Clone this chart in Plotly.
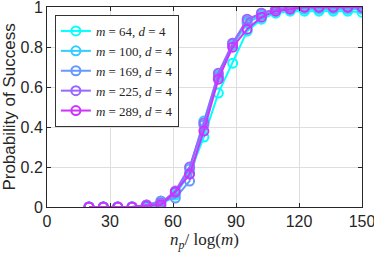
import plotly.graph_objects as go

x_vals = [20.0, 26.8, 33.7, 40.5, 47.4, 54.2, 61.1, 67.9, 74.7, 81.6,
          88.4, 95.3, 102.1, 108.9, 115.8, 122.6, 129.5, 136.3, 143.2, 150.0]

m64 = [0, 0, 0, 0, 0, 0.01, 0.06, 0.17, 0.35, 0.57, 0.72, 0.88, 0.94, 0.97, 0.98, 0.98, 0.98, 0.98, 0.98, 0.975]
m100 = [0, 0, 0, 0, 0, 0.02, 0.07, 0.19, 0.43, 0.66, 0.81, 0.92, 0.96, 0.98, 0.99, 0.99, 0.99, 0.99, 0.99, 0.99]
m169 = [0, 0, 0, 0, 0.01, 0.03, 0.045, 0.13, 0.41, 0.65, 0.82, 0.93, 0.97, 0.99, 1, 1, 1, 1, 1, 1]
m225 = [0, 0, 0, 0, 0.01, 0.02, 0.08, 0.2, 0.42, 0.67, 0.82, 0.94, 0.97, 0.99, 1, 1, 1, 1, 1, 1]
m289 = [0, 0, 0, 0, 0.005, 0.01, 0.075, 0.165, 0.38, 0.64, 0.80, 0.89, 0.95, 0.98, 0.99, 1, 1, 1, 1, 1]

series = [
    ("<i>m</i> = 64, <i>d</i> = 4", m64, "#00FFFF"),
    ("<i>m</i> = 100, <i>d</i> = 4", m100, "#33CCFF"),
    ("<i>m</i> = 169, <i>d</i> = 4", m169, "#6699FF"),
    ("<i>m</i> = 225, <i>d</i> = 4", m225, "#9966FF"),
    ("<i>m</i> = 289, <i>d</i> = 4", m289, "#CC33FF"),
]

x_ticks = [0, 30, 60, 90, 120, 150]
y_ticks = [0, 0.2, 0.4, 0.6, 0.8, 1]
y_tick_text = ["0", "0.2", "0.4", "0.6", "0.8", "1"]

fig = go.Figure()
for name, ys, col in series:
    fig.add_trace(go.Scatter(
        x=x_vals, y=ys, name=name, mode="lines+markers",
        line=dict(color=col, width=2),
        marker=dict(symbol="circle-open", size=9, color=col, line=dict(width=2, color=col)),
    ))

axis_common = dict(
    showline=True, linecolor="#262626", linewidth=1, mirror="ticks",
    showgrid=True, gridcolor="#DEDEDE", gridwidth=1,
    ticks="inside", ticklen=4, tickcolor="#262626",
    zeroline=False, automargin=False, ticklabeloverflow="allow",
    tickfont=dict(family="Liberation Sans, Arial", size=16, color="#262626"),
)

fig.update_layout(
    width=374, height=254,
    margin=dict(l=47, r=12, t=7, b=47),
    paper_bgcolor="white", plot_bgcolor="white",
    showlegend=True,
    legend=dict(
        x=0.025, y=0.96, xanchor="left", yanchor="top",
        bgcolor="white", bordercolor="#333333", borderwidth=1,
        font=dict(family="Liberation Serif, DejaVu Serif", size=13, color="#262626"),
        itemwidth=30, tracegroupgap=0,
    ),
    xaxis=dict(
        range=[0, 150], tickvals=x_ticks,
        title=dict(text="<i>n</i><sub><i>p</i></sub>/ log(<i>m</i>)",
                   font=dict(family="Liberation Serif, DejaVu Serif", size=17, color="#262626"),
                   standoff=3),
        **axis_common,
    ),
    yaxis=dict(
        range=[0, 1.001], tickvals=y_ticks, ticktext=y_tick_text,
        title=dict(text="Probability of Success",
                   font=dict(family="Liberation Sans, Arial", size=17, color="#262626"),
                   standoff=2),
        **axis_common,
    ),
)

fig.write_html("out.html", config={"displayModeBar": False},
               post_script="document.body.style.margin='0';")
